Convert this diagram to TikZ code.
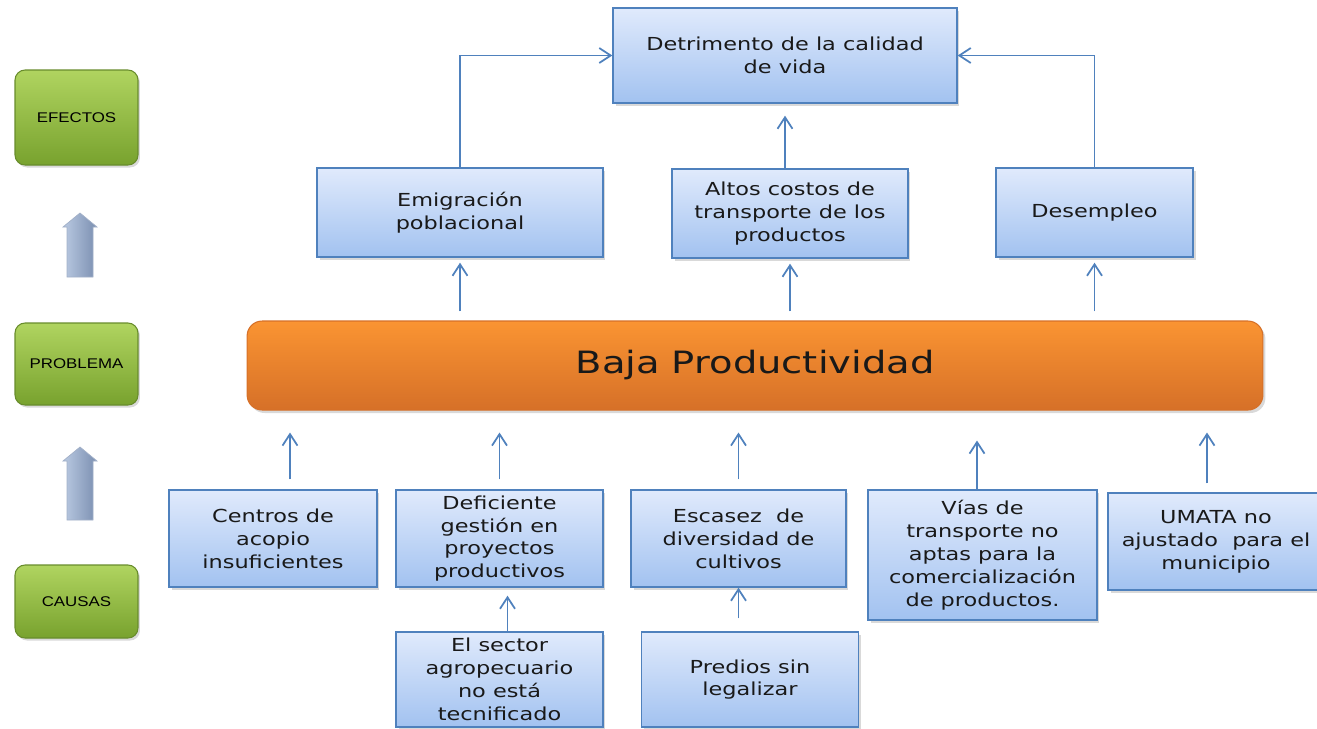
\documentclass[tikz,border=0pt]{standalone}
\usepackage{fontspec}
\setmainfont{DejaVu Sans}
\newfontfamily\boxfont[FakeStretch=1.25]{DejaVu Sans}
\newfontfamily\tagfont[FakeStretch=1.2]{Liberation Sans}
\usetikzlibrary{positioning, calc, arrows.meta, shadows}
\definecolor{boxTop}{RGB}{224, 234, 252}
\definecolor{boxBot}{RGB}{162, 194, 240}
\definecolor{boxLine}{RGB}{79, 129, 189}
\definecolor{orgTop}{RGB}{250, 148, 50}
\definecolor{orgBot}{RGB}{214, 112, 40}
\definecolor{grnTop}{RGB}{176, 212, 96}
\definecolor{grnBot}{RGB}{120, 162, 46}
\definecolor{grnLine}{RGB}{104, 140, 44}
\definecolor{arrL}{RGB}{186, 202, 226}
\definecolor{arrM}{RGB}{238, 242, 250}
\definecolor{arrR}{RGB}{122, 142, 176}

\begin{document}
\begin{tikzpicture}[x=0.02cm, y=-0.02cm,
    caja/.style={draw=boxLine, line width=0.8pt, top color=boxTop, bottom color=boxBot,
      align=center, inner sep=0pt, text=black!90,
      font=\boxfont\fontsize{10.2}{13}\selectfont,
      drop shadow={opacity=0.3, shadow xshift=0.05cm, shadow yshift=-0.06cm}},
    nivel/.style={draw=grnLine, line width=0.6pt, rounded corners=0.2cm,
      top color=grnTop, bottom color=grnBot, minimum width=2.46cm, inner sep=0pt,
      font=\tagfont\fontsize{8}{10}\selectfont,
      drop shadow={opacity=0.3, shadow xshift=0.04cm, shadow yshift=-0.05cm}},
    problema/.style={draw=orgBot, line width=0.6pt, rounded corners=0.3cm,
      top color=orgTop, bottom color=orgBot, inner sep=0pt, text=black!90,
      font=\boxfont\fontsize{17.5}{20}\selectfont,
      drop shadow={opacity=0.3, shadow xshift=0.05cm, shadow yshift=-0.06cm}},
    link/.style={draw=boxLine, line width=1pt, -{Straight Barb[length=0.23cm, width=0.3cm]}},
    flecha/.style={draw=arrR!70, line width=0.4pt, left color=arrL, middle color=arrM, right color=arrR}]

  \useasboundingbox (0,0) rectangle (1317,728);

  % levels
  \node[nivel, minimum height=1.9cm] (efectos) at (76.5,117.5) {EFECTOS};
  \node[nivel, minimum height=1.64cm] (nproblema) at (76.5,364) {PROBLEMA};
  \node[nivel, minimum height=1.46cm] (causas) at (76.5,601.5) {CAUSAS};
  \shade[flecha] (67,277) -- (67,227) -- (63,227) -- (80,213) -- (97,227) -- (93,227) -- (93,277) -- cycle;
  \shade[flecha] (67,520) -- (67,461) -- (63,461) -- (80,447) -- (97,461) -- (93,461) -- (93,520) -- cycle;

  % effects
  \node[caja, minimum width=6.88cm, minimum height=1.9cm] (detr) at (785,55.5) {Detrimento de la calidad\\de vida};
  \node[caja, minimum width=5.72cm, minimum height=1.78cm] (emig) at (460,212.5) {Emigración\\poblacional};
  \node[caja, minimum width=4.72cm, minimum height=1.78cm] (altos) at (790,213.5) {Altos costos de\\transporte de los\\productos};
  \node[caja, minimum width=3.94cm, minimum height=1.78cm] (desem) at (1094.5,212.5) {Desempleo};

  % problem
  \node[problema, minimum width=20.32cm, minimum height=1.78cm] (baja) at (755,365.5) {Baja Productividad};

  % causes
  \node[caja, minimum width=4.16cm, minimum height=1.94cm] (centros) at (273,538.5) {Centros de\\acopio\\insuficientes};
  \node[caja, minimum width=4.14cm, minimum height=1.94cm] (defic) at (499.5,538.5) {Deficiente\\gestión en\\proyectos\\productivos};
  \node[caja, minimum width=4.3cm, minimum height=1.94cm] (escasez) at (738.5,538.5) {Escasez\ \ de\\diversidad de\\cultivos};
  \node[caja, minimum width=4.58cm, minimum height=2.6cm] (vias) at (982.5,555) {Vías de\\transporte no\\aptas para la\\comercialización\\de productos.};
  \node[caja, minimum width=4.32cm, minimum height=1.94cm] (umata) at (1216,541.5) {UMATA no\\ajustado\ \ para el\\municipio};
  \node[caja, minimum width=4.14cm, minimum height=1.9cm] (sector) at (499.5,679.5) {El sector\\agropecuario\\no está\\tecnificado};
  \node[caja, minimum width=4.34cm, minimum height=1.9cm] (predios) at (750,679.5) {Predios sin\\legalizar};

  % effect links
  \draw[link] (emig.north) |- (detr.west);
  \draw[link] (desem.north) |- (detr.east);
  \draw[link, shorten >=0.24cm] (altos.north -| detr.south) -- (detr.south);
  \draw[link, shorten <=0.18cm, shorten >=0.1cm] (baja.north -| emig.south) -- (emig.south);
  \draw[link, shorten <=0.18cm, shorten >=0.1cm] (baja.north -| altos.south) -- (altos.south);
  \draw[link, shorten <=0.18cm, shorten >=0.1cm] (baja.north -| desem.south) -- (desem.south);

  % cause links
  \draw[link, shorten <=0.2cm, shorten >=0.44cm] ([xshift=0.34cm]centros.north) -- ([xshift=0.34cm]centros.north |- baja.south);
  \draw[link, shorten <=0.2cm, shorten >=0.44cm] (defic.north) -- (defic.north |- baja.south);
  \draw[link, shorten <=0.2cm, shorten >=0.44cm] (escasez.north) -- (escasez.north |- baja.south);
  \draw[link, shorten >=0.6cm] ([xshift=-0.11cm]vias.north) -- ([xshift=-0.11cm]vias.north |- baja.south);
  \draw[link, shorten <=0.18cm, shorten >=0.44cm] ([xshift=-0.18cm]umata.north) -- ([xshift=-0.18cm]umata.north |- baja.south);
  \draw[link, shorten >=0.16cm] ([xshift=0.16cm]sector.north) -- ([xshift=0.16cm]sector.north |- defic.south);
  \draw[link, shorten <=0.26cm] (predios.north -| escasez.south) -- (escasez.south);
\end{tikzpicture}
\end{document}
